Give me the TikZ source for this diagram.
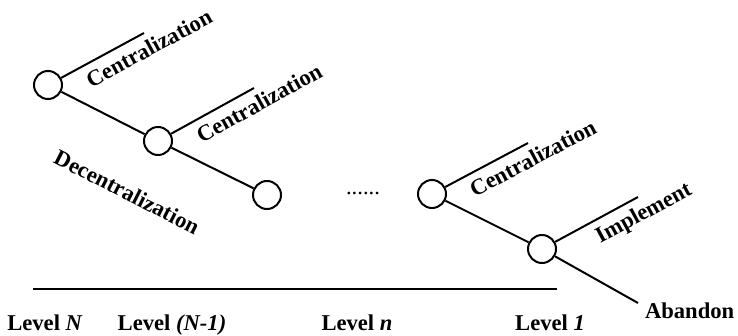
\documentclass[tikz,border=0pt]{standalone}
\usepackage{fontspec}
\setmainfont{Liberation Serif}
\usetikzlibrary{positioning}

\tikzset{
  choice/.style={draw, circle, line width=1pt, minimum size=14pt, inner sep=0pt},
  lbl/.style={font=\fontsize{11.3}{13}\selectfont\bfseries},
}

\begin{document}
\begin{tikzpicture}[x=0.5pt, y=-0.5pt, line width=1pt]
  \useasboundingbox (0,0) rectangle (738,336);
  % decision points
  \foreach \n/\x/\y in {c1/48/85, c2/158/141, c3/267/195, c4/432/194, c5/542/249}{
    \node[choice] (\n) at (\x,\y) {};}
  % free ends of the branches
  \coordinate (e1) at (144,33);
  \coordinate (e2) at (254,88);
  \coordinate (e4) at (528,143);
  \coordinate (e5) at (638,197);
  \coordinate (a5) at (638,303);
  % branches
  \draw (c1) -- node[lbl, pos=0.97, sloped, below] {Centralization} (e1);
  \draw (c1) -- (c2);
  \draw (c2) -- node[lbl, pos=0.97, sloped, below] {Centralization} (e2);
  \draw (c2) -- (c3);
  \draw (c4) -- node[lbl, pos=0.97, sloped, below] {Centralization} (e4);
  \draw (c4) -- (c5);
  \draw (c5) -- node[lbl, pos=0.97, sloped, below] {Implement} (e5);
  \draw (c5) -- (a5);
  \node[lbl, anchor=base west, inner sep=0pt] (ab) at (644,318) {Abandon};
  \node[lbl, rotate=-27] (dec) at (127,192) {Decentralization};
  \node[font=\fontsize{11.3}{13}\selectfont, anchor=base] (dots) at (363,195) {......};
  % levels
  \coordinate (ax0) at (33,289);
  \coordinate (ax1) at (557,289);
  \draw[line width=1.2pt] (ax0) -- (ax1);
  \foreach \i/\x/\t in {1/45/{Level \textit{N}}, 2/172/{Level \textit{(N-1)}},
                        3/357/{Level \textit{n}}, 4/550/{Level \textit{1}}}{
    \node[lbl, anchor=base] (lv\i) at (\x,330) {\t};}
\end{tikzpicture}
\end{document}
